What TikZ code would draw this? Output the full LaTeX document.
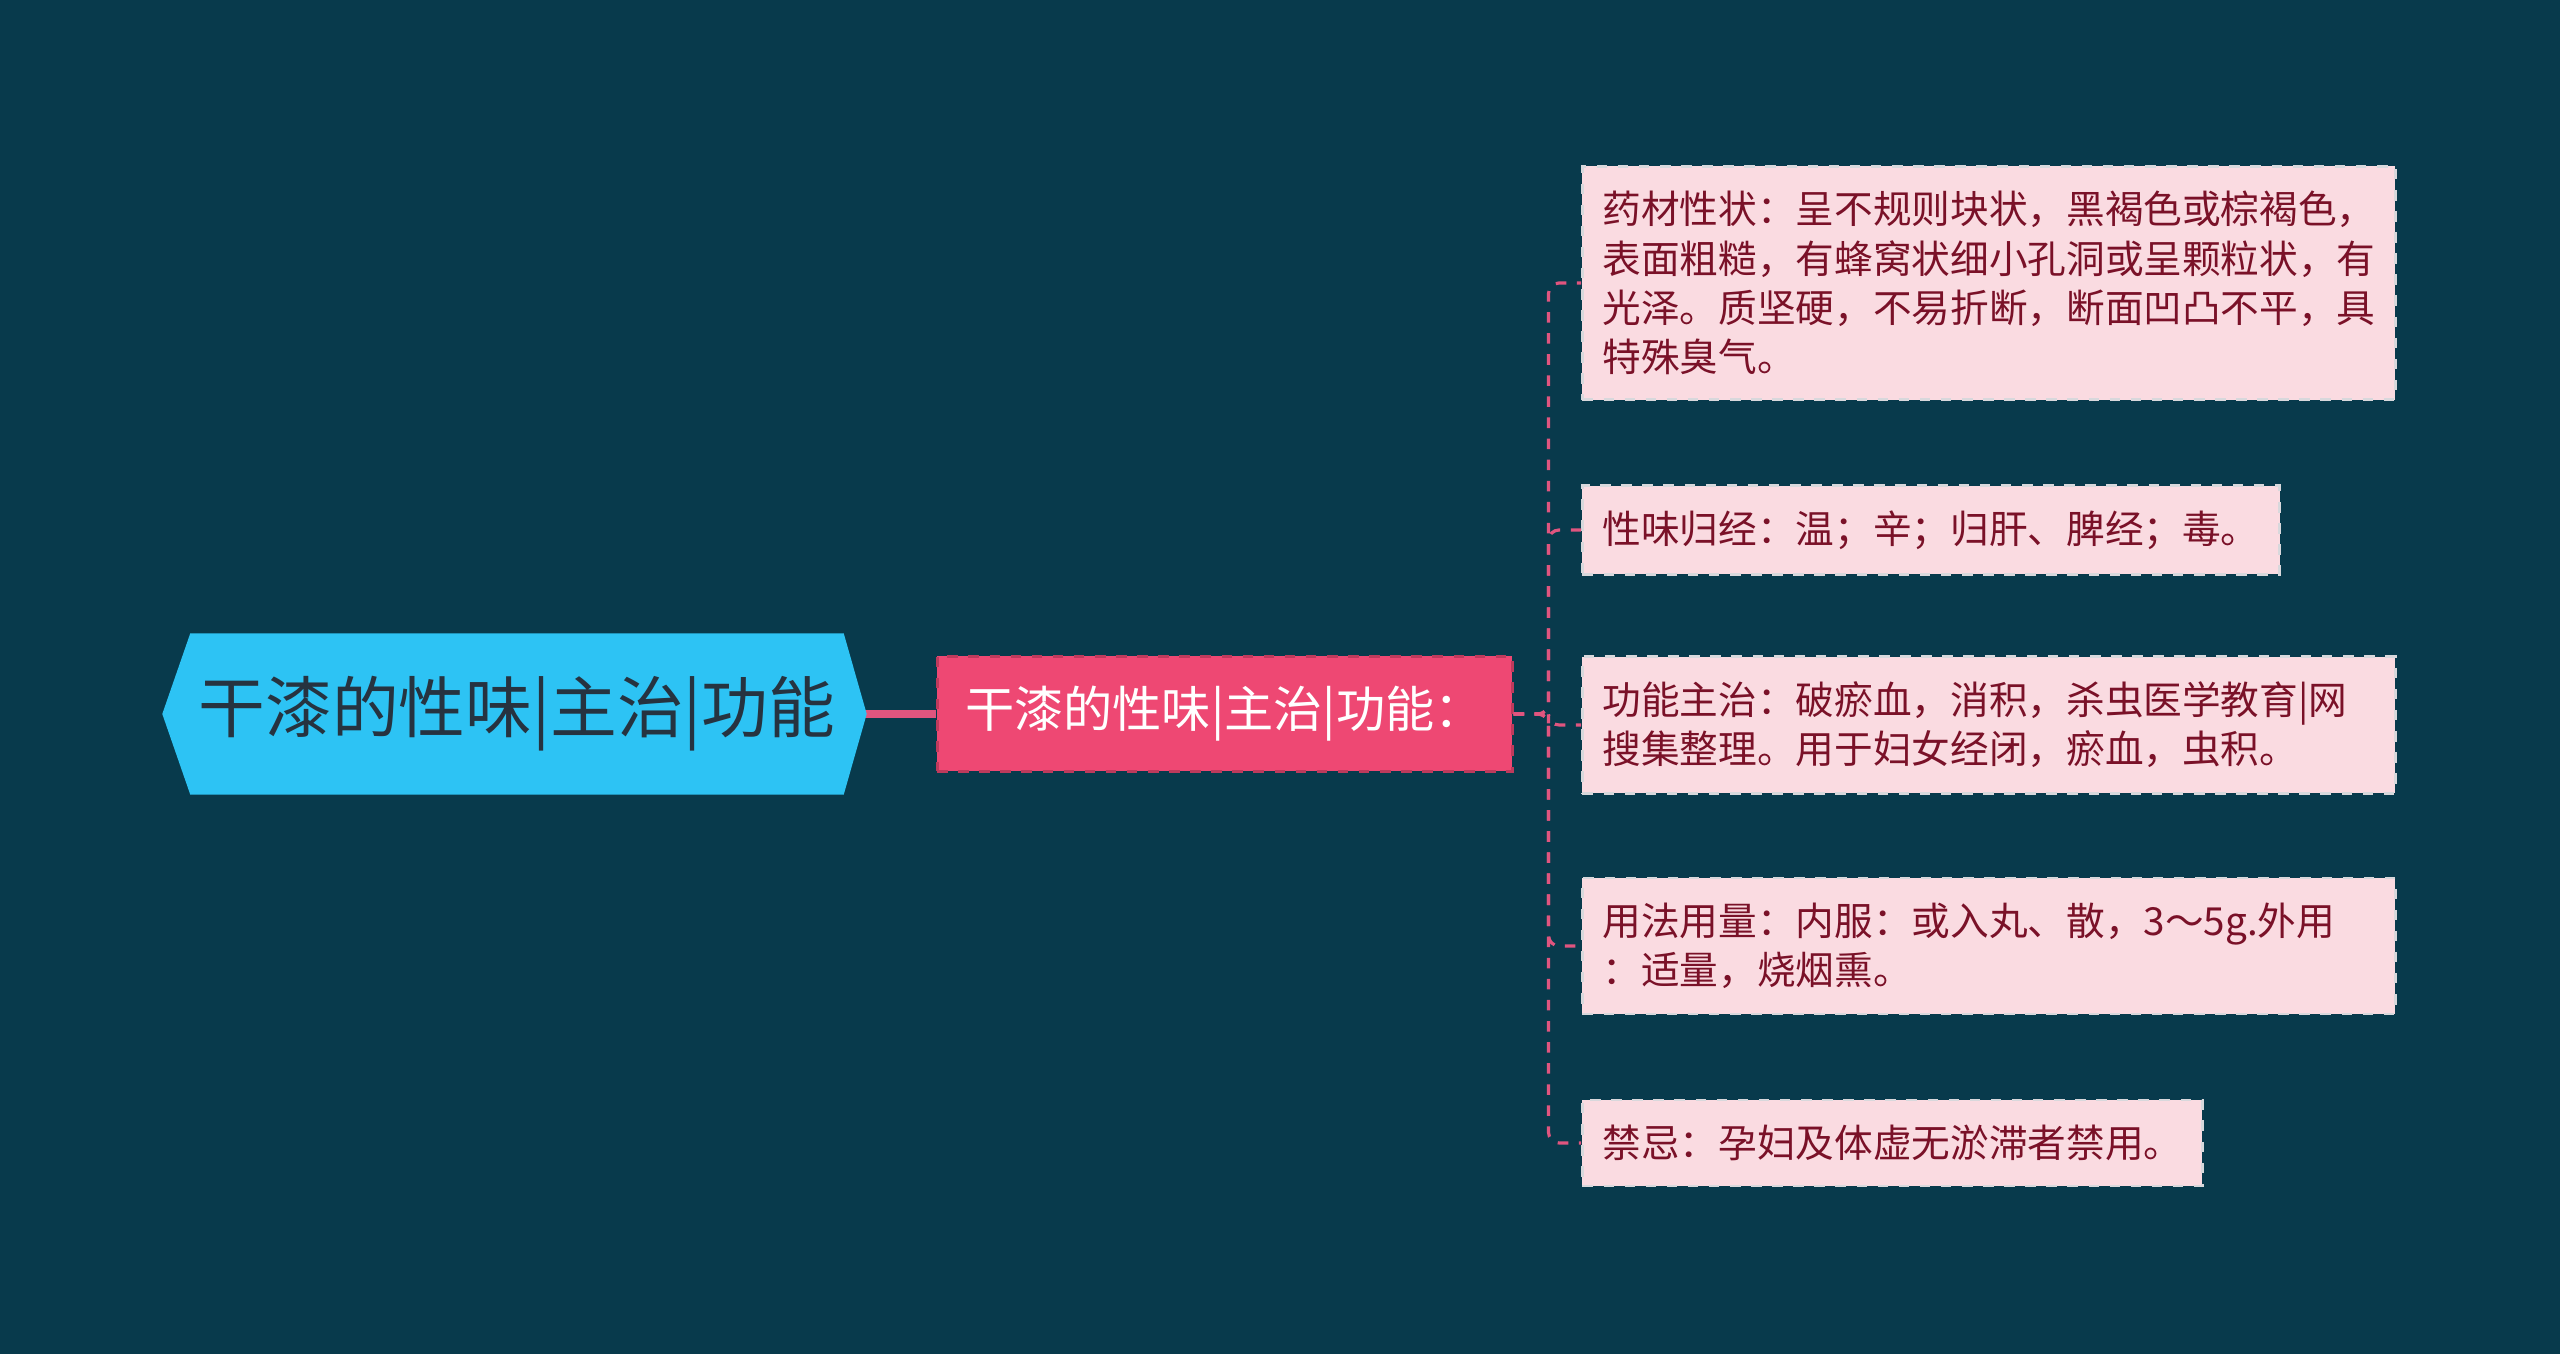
\documentclass[tikz,border=0pt]{standalone}
\usepackage{fontspec}
\setmainfont{Noto Sans CJK SC}
\usepackage{xcolor}
\usepackage{tikz}
\usetikzlibrary{positioning,backgrounds}
\definecolor{bgteal}{HTML}{083A4C}
\definecolor{rootblue}{HTML}{2DC3F4}
\definecolor{roottext}{HTML}{263340}
\definecolor{midpink}{HTML}{EE4873}
\definecolor{leafpink}{HTML}{FADBE1}
\definecolor{leaftext}{HTML}{7A1128}
\definecolor{leafedge}{HTML}{D8D8DC}
\definecolor{linkpink}{HTML}{E0557F}

\begin{document}
\begin{tikzpicture}[
    every node/.style={align=left},
    rootbox/.style={minimum width=6.52cm,minimum height=1.6cm,inner sep=0pt,align=center,text=roottext,font=\fontsize{19pt}{22pt}\selectfont},
    midbox/.style={fill=midpink,draw=midpink!80!black,dashed,line width=0.8pt,text=white,font=\fontsize{14pt}{17pt}\selectfont,minimum height=1.15cm,text width=5.19cm,inner xsep=0.28cm},
    leaf/.style={fill=leafpink,draw=leafedge,dashed,line width=0.8pt,text=leaftext,font=\fontsize{11pt}{14pt}\selectfont,inner xsep=0.2cm,inner ysep=0.25cm,anchor=west},
    wideleaf/.style={leaf,text width=7.73cm},
    branch/.style={draw=linkpink,dashed,line width=0.9pt,rounded corners=3pt},
    rootlink/.style={draw=linkpink,line width=2pt}
  ]
  \useasboundingbox (0,0) rectangle (25.6,13.54);
  \node[rootbox] (root) at (5.17,6.40) {干漆的性味|主治|功能};
  \node[midbox,right=0.92cm of root] (mid) {干漆的性味|主治|功能：};
  \node[wideleaf] (shape) at (15.81,10.71) {药材性状：呈不规则块状，黑褐色或棕褐色，\\表面粗糙，有蜂窝状细小孔洞或呈颗粒状，有\\光泽。质坚硬，不易折断，断面凹凸不平，具\\特殊臭气。};
  \node[leaf]     (taste) at (15.81,8.24)  {性味归经：温；辛；归肝、脾经；毒。};
  \node[wideleaf] (use)   at (15.81,6.29)  {功能主治：破瘀血，消积，杀虫医学教育|网\\搜集整理。用于妇女经闭，瘀血，虫积。};
  \node[wideleaf] (dose)  at (15.81,4.08)  {用法用量：内服：或入丸、散，3～5g.外用\\：适量，烧烟熏。};
  \node[leaf]     (taboo) at (15.81,2.11)  {禁忌：孕妇及体虚无淤滞者禁用。};
  \begin{scope}[on background layer]
    \fill[bgteal] (0,0) rectangle (25.6,13.54);
    \draw[rootlink] (root.east) -- (mid.west);
    \fill[rootblue] ([xshift=-0.28cm]root.west) -- (root.north west) -- (root.north east) -- ([xshift=0.23cm]root.east) -- (root.south east) -- (root.south west) -- cycle;
  \end{scope}
  \draw[branch] (mid.east) -- ++(0.35,0) |- (shape.west);
  \draw[branch] (mid.east) -- ++(0.35,0) |- (taste.west);
  \draw[branch] (mid.east) -- ++(0.35,0) |- (use.west);
  \draw[branch] (mid.east) -- ++(0.35,0) |- (dose.west);
  \draw[branch] (mid.east) -- ++(0.35,0) |- (taboo.west);
\end{tikzpicture}
\end{document}
